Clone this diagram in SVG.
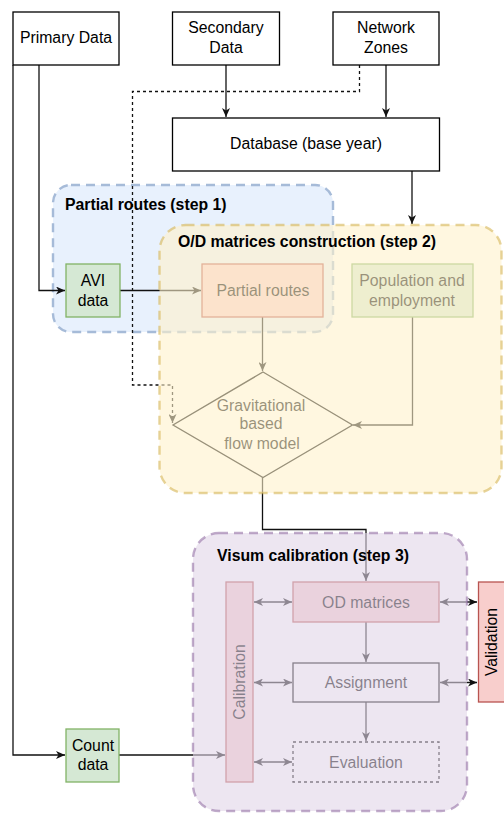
<svg xmlns="http://www.w3.org/2000/svg" width="504" height="813" viewBox="0 0 504 813">
<defs>
<marker id="arr" markerWidth="10" markerHeight="8" refX="9" refY="4" orient="auto-start-reverse" markerUnits="userSpaceOnUse">
<path d="M0,0 L9,4 L0,8 L2.5,4 Z" fill="#111"/>
</marker>
</defs>
<style>
text{font-family:"Liberation Sans",Arial,sans-serif;font-size:15.8px;fill:#000;text-anchor:middle}
.lbl{font-weight:bold;text-anchor:start}
.box{stroke:#000;stroke-width:1.3;fill:#fff}
.green{fill:#d5e8d4;stroke:#82b366;stroke-width:1.3}
.red{fill:#f8cecc;stroke:#b85450;stroke-width:1.3}
.edge{fill:none;stroke:#111;stroke-width:1.3}
.grp{stroke-width:2.4;stroke-dasharray:9 6}
</style>
<g id="step1">
<rect x="53" y="185" width="280" height="147" rx="18" fill="#dae8fc" stroke="#6c8ebf" class="grp" opacity="0.6"/>
</g>
<g id="connectors">
<path class="edge" d="M39,65 V290.5 H65" marker-end="url(#arr)"/>
<path class="edge" d="M13,65 V755 H65" marker-end="url(#arr)"/>
<path class="edge" d="M226,65 V117" marker-end="url(#arr)"/>
<path class="edge" d="M386,65 V117" marker-end="url(#arr)"/>
<path class="edge" d="M359.5,65 V91.5 H132.5 V385 H172.5 V423" stroke-dasharray="3 3" marker-end="url(#arr)"/>
<path class="edge" d="M412,171 V224" marker-end="url(#arr)"/>
<path class="edge" d="M120,290.5 H201" marker-end="url(#arr)"/>
<path class="edge" d="M262.5,317 V371" marker-end="url(#arr)"/>
<path class="edge" d="M412.5,317 V425 H353" marker-end="url(#arr)"/>
<path class="edge" d="M262.5,477 V529.5 H366 V581" marker-end="url(#arr)"/>
<path class="edge" d="M366,622 V662" marker-end="url(#arr)"/>
<path class="edge" d="M366,702 V741" marker-end="url(#arr)"/>
<path class="edge" d="M119,755 H225" marker-end="url(#arr)"/>
<path class="edge" d="M254,602 H292" marker-start="url(#arr)" marker-end="url(#arr)"/>
<path class="edge" d="M254,682.5 H292" marker-start="url(#arr)" marker-end="url(#arr)"/>
<path class="edge" d="M254,762 H292" marker-start="url(#arr)" marker-end="url(#arr)"/>
<path class="edge" d="M440,602 H477" marker-start="url(#arr)" marker-end="url(#arr)"/>
<path class="edge" d="M440,682.5 H477" marker-start="url(#arr)" marker-end="url(#arr)"/>
</g>
<g id="primary"><rect class="box" x="13" y="12" width="106" height="53"/><text x="66" y="42.5">Primary Data</text></g>
<g id="secondary"><rect class="box" x="172.5" y="12" width="107" height="53"/><text x="226" y="33">Secondary</text><text x="226" y="53">Data</text></g>
<g id="network"><rect class="box" x="333" y="12" width="106" height="53"/><text x="386" y="33">Network</text><text x="386" y="53">Zones</text></g>
<g id="database"><rect class="box" x="172.5" y="118" width="267" height="53"/><text x="306" y="149">Database (base year)</text></g>
<g id="avi"><rect class="green" x="66" y="264" width="54" height="53"/><text x="93" y="286">AVI</text><text x="93" y="306">data</text></g>
<g id="partial"><rect class="red" x="202" y="264" width="121" height="53"/><text x="263" y="296">Partial routes</text></g>
<g id="population"><rect class="green" x="352" y="264" width="121" height="53"/><text x="412" y="286">Population and</text><text x="412" y="306">employment</text></g>
<g id="gravity"><path d="M263,372 L352.5,425 L263,477.5 L173,425 Z" fill="#fff" stroke="#000" stroke-width="1.3"/><text x="261" y="410.5">Gravitational</text><text x="261" y="429">based</text><text x="262" y="449">flow model</text></g>
<g id="count"><rect class="green" x="66" y="729" width="53" height="53"/><text x="93" y="751">Count</text><text x="93" y="770">data</text></g>
<g id="calibration"><rect class="red" x="226" y="582" width="27" height="200"/><text transform="translate(245,682) rotate(-90)">Calibration</text></g>
<g id="od"><rect class="red" x="293" y="582" width="146" height="40"/><text x="366" y="607.5">OD matrices</text></g>
<g id="assignment"><rect class="box" x="293" y="663" width="146" height="39"/><text x="366" y="688">Assignment</text></g>
<g id="evaluation"><rect class="box" x="293" y="742" width="146" height="40" stroke-dasharray="3 3"/><text x="366" y="767.5">Evaluation</text></g>
<g id="step2">
<rect x="159.5" y="225" width="342" height="268" rx="26" fill="#fff2cc" fill-opacity="0.6" stroke="#d6b656" stroke-opacity="0.6" class="grp"/>
</g>
<g id="step3">
<rect x="193" y="533" width="274" height="278" rx="26" fill="#e1d5e7" fill-opacity="0.6" stroke="#9673a6" stroke-opacity="0.6" class="grp"/>
</g>
<g id="validation"><rect class="red" x="478.5" y="582" width="30" height="120"/><text transform="translate(497,642) rotate(-90)">Validation</text></g>
<g id="labels">
<text class="lbl" x="65" y="210">Partial routes (step 1)</text>
<text class="lbl" x="178" y="247">O/D matrices construction (step 2)</text>
<text class="lbl" x="217" y="561">Visum calibration (step 3)</text>
</g>
</svg>
